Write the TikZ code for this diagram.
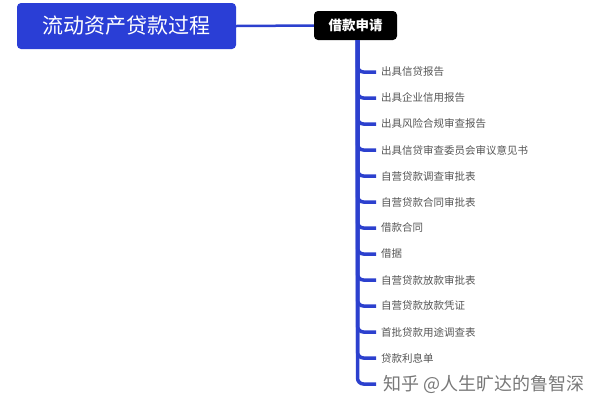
\documentclass[tikz,border=0pt]{standalone}
\usepackage{fontspec}
\usepackage{tikz}
\usetikzlibrary{positioning}
\newfontfamily\cjk{Noto Sans CJK SC}
\definecolor{rootblue}{RGB}{42, 62, 214}
\definecolor{lineblue}{RGB}{44, 64, 206}
\definecolor{itemgray}{RGB}{85, 85, 85}
\definecolor{markgray}{RGB}{120, 120, 120}
\tikzstyle{root} = [rectangle, rounded corners=4pt, fill=rootblue, text=white, font=\cjk\fontsize{21}{24}\selectfont, minimum width=219pt, minimum height=46pt, inner sep=0pt]
\tikzstyle{topic} = [rectangle, rounded corners=4pt, fill=black, text=white, font=\cjk\bfseries\fontsize{13.5}{16}\selectfont, minimum width=83pt, minimum height=29pt, inner sep=0pt]
\tikzstyle{item} = [anchor=west, text=itemgray, font=\cjk\fontsize{10.5}{12}\selectfont, inner sep=0pt]
\tikzstyle{watermark} = [anchor=west, text=markgray, font=\cjk\fontsize{18}{21}\selectfont, inner sep=0pt]
\tikzstyle{tedge} = [draw=lineblue, line width=2.5pt]
\tikzstyle{bedge} = [draw=lineblue, line width=3.5pt, rounded corners=6pt]

\begin{document}
\begin{tikzpicture}[x=1pt, y=-1pt]
\useasboundingbox (0,0) rectangle (600,400);

% root and topic =============================
\node[root] (loan) at (126.5,26) {流动资产贷款过程};
\node[topic] (apply) at (355.5,25.5) {借款申请};

\path[tedge] (loan.east) -- (apply.west);

% documents =============================
\node[item] (i1) at (381,72) {出具信贷报告};
\node[item, below=26pt of i1.west, anchor=west] (i2) {出具企业信用报告};
\node[item, below=26pt of i2.west, anchor=west] (i3) {出具风险合规审查报告};
\node[item, below=26pt of i3.west, anchor=west] (i4) {出具信贷审查委员会审议意见书};
\node[item, below=26pt of i4.west, anchor=west] (i5) {自营贷款调查审批表};
\node[item, below=26pt of i5.west, anchor=west] (i6) {自营贷款合同审批表};
\node[item, below=26pt of i6.west, anchor=west] (i7) {借款合同};
\node[item, below=26pt of i7.west, anchor=west] (i8) {借据};
\node[item, below=26pt of i8.west, anchor=west] (i9) {自营贷款放款审批表};
\node[item, below=26pt of i9.west, anchor=west] (i10) {自营贷款放款凭证};
\node[item, below=26pt of i10.west, anchor=west] (i11) {首批贷款用途调查表};
\node[item, below=26pt of i11.west, anchor=west] (i12) {贷款利息单};
\node[watermark, below=26pt of i12.west, anchor=west, xshift=2pt] (i13) {知乎 @人生旷达的鲁智深};

% branches
\coordinate (spine) at ([xshift=2pt]apply.south);
\foreach \n in {1,...,12}
  \path[bedge] (spine) |- ([xshift=-5pt]i\n.west);
\path[bedge] (spine) |- ([xshift=-7pt]i13.west);

\end{tikzpicture}
\end{document}
